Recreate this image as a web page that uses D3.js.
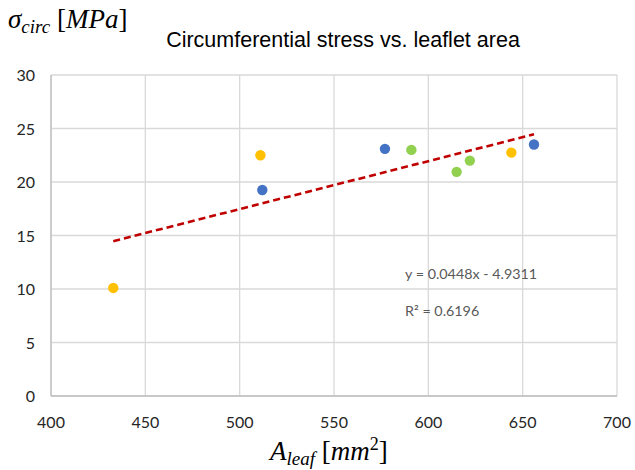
<!DOCTYPE html>
<html>
<head>
<meta charset="utf-8">
<script src="https://cdn.jsdelivr.net/npm/d3@7"></script>
<style>
	body { margin: 0; background: #fff; }
	svg { display: block; }
</style>
</head>
<body>
<svg id="myGraph" width="635" height="470"></svg>
<script>
var area = [433, 511, 512, 577, 591, 615, 622, 644, 656];	// A_leaf [mm^2]
var stress = [10.1, 22.5, 19.25, 23.1, 23.0, 20.95, 22.0, 22.75, 23.5];	// sigma_circ [MPa]
var group = ["y", "y", "b", "b", "g", "g", "g", "y", "b"];	// 점 색 그룹
var xTicks = [400, 450, 500, 550, 600, 650, 700];
var yTicks = [0, 5, 10, 15, 20, 25, 30];
var slope = 0.0448, intercept = -4.9311, r2 = 0.6196;	// 추세선

var colors = { y: "#ffc000", b: "#4472c4", g: "#92d050" };

var svg = d3.select("#myGraph");
var pLeft = 51, pRight = 617, pTop = 75, pBottom = 396;	// 플롯 영역

var x = d3.scaleLinear().domain([400, 700]).range([pLeft, pRight]);
var y = d3.scaleLinear().domain([0, 30]).range([pBottom, pTop]);

// 격자
svg.append("g").selectAll("line").data(xTicks).enter().append("line")
	.attr("x1", function(d){ return x(d); }).attr("x2", function(d){ return x(d); })
	.attr("y1", pTop).attr("y2", pBottom)
	.attr("stroke", "#d9d9d9").attr("stroke-width", 1.3);
svg.append("g").selectAll("line").data(yTicks).enter().append("line")
	.attr("x1", pLeft).attr("x2", pRight)
	.attr("y1", function(d){ return y(d); }).attr("y2", function(d){ return y(d); })
	.attr("stroke", "#d9d9d9").attr("stroke-width", 1.3);
// 축선
svg.append("line").attr("x1", pLeft).attr("x2", pLeft).attr("y1", pTop).attr("y2", pBottom)
	.attr("stroke", "#bfbfbf").attr("stroke-width", 1.3);
svg.append("line").attr("x1", pLeft).attr("x2", pRight).attr("y1", pBottom).attr("y2", pBottom)
	.attr("stroke", "#bfbfbf").attr("stroke-width", 1.3);

// 눈금 라벨
svg.append("g").selectAll("text").data(xTicks).enter().append("text")
	.attr("x", function(d){ return x(d); }).attr("y", 428)
	.attr("text-anchor", "middle")
	.style("font", "16px Lato").style("fill", "#262626")
	.text(function(d){ return d; });
svg.append("g").selectAll("text").data(yTicks).enter().append("text")
	.attr("x", 35).attr("y", function(d){ return y(d) + 6; })
	.attr("text-anchor", "end")
	.style("font", "16px Lato").style("fill", "#262626")
	.text(function(d){ return d; });

// 추세선
var xs = d3.extent(area);
svg.append("line")
	.attr("x1", x(xs[0])).attr("y1", y(slope * xs[0] + intercept))
	.attr("x2", x(xs[1])).attr("y2", y(slope * xs[1] + intercept))
	.attr("stroke", "#c00000").attr("stroke-width", 2.6)
	.attr("stroke-dasharray", "7,4");

// 점
svg.append("g").selectAll("circle").data(area).enter().append("circle")
	.attr("cx", function(d){ return x(d); })
	.attr("cy", function(d, i){ return y(stress[i]); })
	.attr("r", 5.2)
	.style("fill", function(d, i){ return colors[group[i]]; });

// 추세선 식
svg.append("text").attr("x", 405).attr("y", 279)
	.style("font", "14.3px Lato").style("fill", "#595959")
	.text("y = " + slope + "x - " + Math.abs(intercept));
svg.append("text").attr("x", 405).attr("y", 316)
	.style("font", "14.3px Lato").style("fill", "#595959")
	.text("R² = " + r2);

// 제목
svg.append("text").attr("x", 343).attr("y", 47)
	.attr("text-anchor", "middle")
	.style("font", "21.5px 'Liberation Sans'").style("fill", "#000")
	.text("Circumferential stress vs. leaflet area");

// 축 제목
var yl = svg.append("text").attr("x", 8).attr("y", 28)
	.style("font", "italic 27px 'Liberation Serif'").style("fill", "#000");
yl.append("tspan").text("σ");
yl.append("tspan").attr("dy", 5).style("font-size", "19px").text("circ");
yl.append("tspan").attr("dy", -5).style("font-style", "normal").text(" [");
yl.append("tspan").text("MPa");
yl.append("tspan").style("font-style", "normal").text("]");

var xl = svg.append("text").attr("x", 270).attr("y", 460)
	.style("font", "italic 27px 'Liberation Serif'").style("fill", "#000");
xl.append("tspan").text("A");
xl.append("tspan").attr("dy", 5).style("font-size", "19px").text("leaf");
xl.append("tspan").attr("dy", -5).style("font-style", "normal").text(" [");
xl.append("tspan").text("mm");
xl.append("tspan").attr("dy", -10).style("font-size", "18px").style("font-style", "normal").text("2");
xl.append("tspan").attr("dy", 10).style("font-style", "normal").text("]");
</script>
</body>
</html>
